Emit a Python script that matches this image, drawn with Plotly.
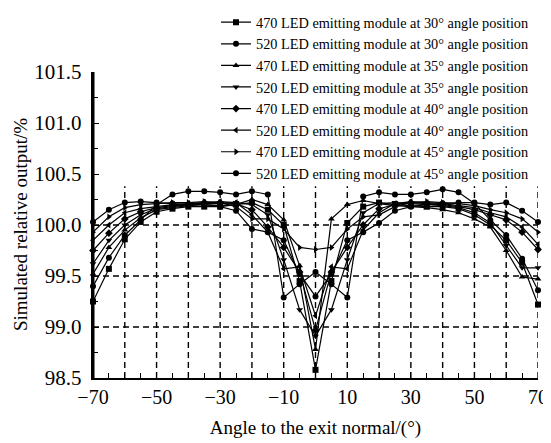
import plotly.graph_objects as go

angles = [-70, -65, -60, -55, -50, -45, -40, -35, -30, -25, -20, -15, -10, -5, 0,
          5, 10, 15, 20, 25, 30, 35, 40, 45, 50, 55, 60, 65, 70]

names = [
    "470 LED emitting module at 30° angle position",
    "520 LED emitting module at 30° angle position",
    "470 LED emitting module at 35° angle position",
    "520 LED emitting module at 35° angle position",
    "470 LED emitting module at 40° angle position",
    "520 LED emitting module at 40° angle position",
    "470 LED emitting module at 45° angle position",
    "520 LED emitting module at 45° angle position",
]

s470_30 = [99.25, 99.57, 99.86, 100.03, 100.13, 100.16, 100.18, 100.18, 100.18, 100.20, 100.22, 100.15, 100.00, 99.45, 98.58,
           99.45, 100.02, 100.18, 100.22, 100.20, 100.19, 100.18, 100.18, 100.16, 100.10, 100.00, 99.85, 99.63, 99.22]
s520_30 = [99.40, 99.68, 99.90, 100.05, 100.20, 100.30, 100.33, 100.33, 100.32, 100.30, 100.33, 100.30, 99.29, 99.42, 99.54,
           99.42, 99.29, 100.28, 100.32, 100.30, 100.30, 100.32, 100.35, 100.32, 100.21, 100.05, 99.90, 99.67, 99.36]
s470_35 = [99.52, 99.78, 99.95, 100.07, 100.15, 100.17, 100.19, 100.20, 100.19, 100.20, 100.25, 100.20, 100.05, 99.60, 98.78,
           100.06, 100.20, 100.24, 100.21, 100.19, 100.18, 100.17, 100.15, 100.12, 100.06, 99.98, 99.75, 99.49, 99.47]
s520_35 = [99.62, 99.85, 100.00, 100.10, 100.16, 100.18, 100.20, 100.21, 100.21, 100.22, 100.20, 100.10, 99.66, 99.17, 98.91,
           99.17, 99.66, 100.12, 100.21, 100.22, 100.21, 100.20, 100.19, 100.17, 100.12, 100.02, 99.80, 99.58, 99.58]
s470_40 = [99.75, 99.92, 100.06, 100.13, 100.17, 100.19, 100.20, 100.22, 100.22, 100.21, 100.15, 99.98, 99.78, 99.54, 98.97,
           99.54, 99.78, 100.00, 100.16, 100.20, 100.22, 100.21, 100.20, 100.18, 100.15, 100.10, 100.05, 99.93, 99.76]
s520_40 = [99.85, 100.00, 100.12, 100.16, 100.18, 100.20, 100.21, 100.22, 100.23, 100.22, 100.10, 99.93, 99.57, 99.59, 99.11,
           99.59, 99.57, 99.95, 100.12, 100.21, 100.23, 100.22, 100.21, 100.19, 100.17, 100.12, 100.08, 99.98, 99.81]
s470_45 = [99.93, 100.08, 100.17, 100.20, 100.21, 100.22, 100.22, 100.23, 100.22, 100.18, 100.06, 100.06, 99.96, 99.78, 99.76,
           99.78, 99.96, 100.08, 100.10, 100.18, 100.22, 100.23, 100.22, 100.21, 100.19, 100.15, 100.12, 100.06, 99.93]
s520_45 = [100.03, 100.15, 100.22, 100.23, 100.22, 100.21, 100.20, 100.20, 100.18, 100.14, 99.96, 99.93, 99.85, 99.52, 99.30,
           99.52, 99.85, 99.93, 100.02, 100.14, 100.18, 100.20, 100.21, 100.22, 100.22, 100.20, 100.22, 100.14, 100.03]

series = [s470_30, s520_30, s470_35, s520_35, s470_40, s520_40, s470_45, s520_45]
symbols = ["square", "circle", "triangle-up", "triangle-down", "diamond",
           "triangle-left", "triangle-right", "circle"]

x_ticks = [-70, -50, -30, -10, 10, 30, 50, 70]
y_ticks = [98.5, 99.0, 99.5, 100.0, 100.5, 101.0, 101.5]
grid_x = [-60, -50, -40, -30, -20, -10, 0, 10, 20, 30, 40, 50, 60, 70]
grid_y = [99.0, 99.5, 100.0]
x_title = "Angle to the exit normal/(°)"
y_title = "Simulated relative output/%"

fig = go.Figure()
for name, vals, sym in zip(names, series, symbols):
    fig.add_trace(go.Scatter(
        x=angles, y=vals, name=name, mode="lines+markers",
        line=dict(color="black", width=1.2),
        marker=dict(symbol=sym, size=6, color="black"),
        cliponaxis=False,
    ))

dash = "6px,4px"
for gx in grid_x:
    fig.add_shape(type="line", xref="x", yref="y", x0=gx, x1=gx, y0=98.5, y1=100.38,
                  line=dict(color="black", width=1.4, dash=dash), layer="below")
for gy in grid_y:
    fig.add_shape(type="line", xref="x", yref="y", x0=-70, x1=70, y0=gy, y1=gy,
                  line=dict(color="black", width=1.4, dash=dash), layer="below")

W, H = 551, 443
L, R, T, B = 85, 21, 64, 73
PW, PH = W - L - R, H - T - B
font = "Liberation Serif, Times New Roman, serif"

# left axis line, drawn explicitly on top
fig.add_shape(type="line", xref="x", yref="paper", x0=-70, x1=-70, y0=0, y1=1,
              line=dict(color="black", width=3), layer="above")

fig.add_annotation(text=y_title, xref="paper", yref="paper",
                   x=(12 - L) / PW, y=1 - (217 - T) / PH, textangle=-90,
                   showarrow=False, xanchor="center", yanchor="middle",
                   font=dict(size=19, family=font, color="black"))

fig.update_layout(
    width=W, height=H,
    margin=dict(l=L, r=R, t=T, b=B, autoexpand=False),
    paper_bgcolor="white", plot_bgcolor="white",
    font=dict(family=font, size=18, color="black"),
    showlegend=True,
    legend=dict(xref="paper", yref="paper", x=(208 - L) / PW, y=1 + (T + 1.6) / PH,
                xanchor="left", yanchor="top",
                font=dict(size=14.3, family=font),
                bgcolor="rgba(0,0,0,0)", borderwidth=0, itemwidth=30,
                tracegroupgap=0),
    xaxis=dict(range=[-70, 70], tickmode="array", tickvals=x_ticks,
               ticktext=[("−" if v < 0 else "") + str(abs(v)) for v in x_ticks],
               showgrid=False, zeroline=False, showline=True, linecolor="black", linewidth=2,
               ticks="inside", ticklen=6, tickwidth=1.2, tickcolor="black",
               minor=dict(tickmode="linear", tick0=-70, dtick=5, ticks="inside", ticklen=5,
                          tickwidth=1.2, tickcolor="black", showgrid=False),
               title=dict(text=x_title, standoff=14,
                          font=dict(size=19, family=font)),
               tickfont=dict(size=20, family=font)),
    yaxis=dict(range=[98.5, 101.5], tickmode="array", tickvals=y_ticks,
               ticktext=["%.1f\u00a0" % v for v in y_ticks],
               showgrid=False, zeroline=False, showline=True, linecolor="black", linewidth=2,
               ticks="inside", ticklen=6, tickwidth=1.2, tickcolor="black",
               minor=dict(tickmode="linear", tick0=98.5, dtick=0.25, ticks="inside", ticklen=5,
                          tickwidth=1.2, tickcolor="black", showgrid=False),
               tickfont=dict(size=21, family=font)),
)

fig.write_html("out.html")
